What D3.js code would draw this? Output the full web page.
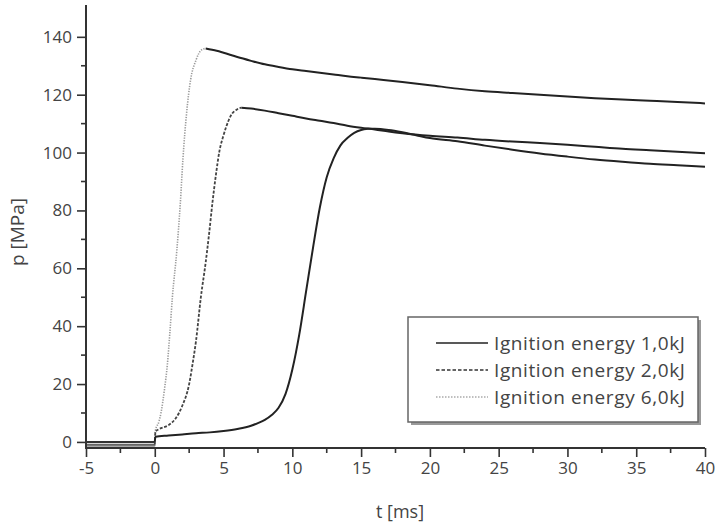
<!DOCTYPE html>
<html><head><meta charset="utf-8">
<script src="https://cdn.jsdelivr.net/npm/d3@7"></script>
<style>html,body{margin:0;padding:0;background:#fff;}svg{display:block;}</style>
</head><body>
<svg id="chart" width="718" height="526"></svg>
<script>
// ---- data ----
const seriesNames = ["Ignition energy 1,0kJ", "Ignition energy 2,0kJ", "Ignition energy 6,0kJ"];

const t1 = [-5,0,0.05,1,2,3,4,5,6,7,7.5,8,8.5,9,9.5,10,10.5,11,11.5,12,12.5,13,13.5,14,14.5,15,15.5,16,17,18,19,20,22,24,26,28,30,32,34,36,38,40];
const p1 = [0,0,1.8,2.2,2.6,3,3.3,3.8,4.5,5.6,6.5,7.6,9.3,11.8,16.5,25,37,52,67,81,91.5,98,102.5,105,106.8,107.8,108.2,108.2,107.8,107,106,105,103.9,102.4,101,99.7,98.6,97.6,96.8,96.1,95.6,95.1];

const t2 = [-5,0,0.05,0.3,1,1.5,2,2.5,2.75,3,3.35,3.7,3.95,4.2,4.45,4.7,5,5.2,5.5,6,6.3,7,8,9,10,11,12,13,14,15,16,17,18,20,22,24,26,28,30,32,34,36,38,40];
const p2 = [-1,-1,3.5,4.4,5.8,8,12.5,20,27,35,50,62,72,83,92.5,100.5,106,109,112.5,115,115.5,115.2,114.5,113.6,112.7,111.8,111,110.2,109.3,108.6,108,107.3,106.7,105.8,105.2,104.4,103.8,103.3,102.7,102,101.3,100.8,100.3,99.8];

const t3 = [-5,0,0.05,0.3,0.45,0.7,0.92,1.1,1.28,1.6,1.85,2.05,2.3,2.6,3,3.4,3.7,4.5,5,6,7,8,9,10,11,12,13,14,15,16,18,20,22,24,26,28,30,32,34,36,38,40];
const p3 = [-1.5,-1.5,4,7,10,18,27,38,50,66,82,98,113,125,132,135.5,136,135.2,134.5,133,131.7,130.5,129.6,128.8,128.2,127.6,127,126.4,125.9,125.4,124.4,123.3,122.1,121.2,120.6,120,119.4,118.8,118.3,117.9,117.5,117];

const xTicks = [-5,0,5,10,15,20,25,30,35,40];
const xMinor = [-2.5,2.5,7.5,12.5,17.5,22.5,27.5,32.5,37.5];
const yTicks = [0,20,40,60,80,100,120,140];
const yMinor = [10,30,50,70,90,110,130];
const xTitle = "t [ms]";
const yTitle = "p [MPa]";

// ---- styles ----
const styles = [
  {rise:"#222", dash:null, w:2, legDash:null, legColor:"#222"},
  {rise:"#444", dash:"3,1.6", w:1.8, legDash:"3.5,2", legColor:"#333"},
  {rise:"#9a9a9a", dash:"1.3,1.3", w:1.6, legDash:"1.5,1.5", legColor:"#aaa"}
];
const tailColor = "#222";

const svg = d3.select("#chart");
const x = d3.scaleLinear().domain([-5,40]).range([86,705]);
const y = d3.scaleLinear().domain([-2.1,151]).range([448,5]);
const font = "'Open Sans', 'Noto Sans', sans-serif";
const fmt = d => String(d);

const line = d3.line().x(d=>x(d[0])).y(d=>y(d[1])).curve(d3.curveMonotoneX);

const data = [[t1,p1],[t2,p2],[t3,p3]];
[2,1,0].forEach(si => {
  const [ts, ps] = data[si];
  const pts = ts.map((t,i)=>[t, ps[i]]);
  const st = styles[si];
  const i0 = ts.indexOf(0);
  const pk = d3.maxIndex(ps);
  const pre = pts.slice(0, i0+1);
  const rise = pts.slice(i0, pk+1);
  const tail = pts.slice(pk);
  svg.append("path").attr("d", line(pre)).attr("fill","none")
    .attr("stroke", si===0 ? "#333" : (si===1 ? "#666" : "#aaa")).attr("stroke-width", 2);
  svg.append("path").attr("d", line(rise)).attr("fill","none")
    .attr("stroke", st.rise).attr("stroke-width", st.w)
    .attr("stroke-dasharray", st.dash);
  svg.append("path").attr("d", line(tail)).attr("fill","none")
    .attr("stroke", tailColor).attr("stroke-width", 2);
});

// ---- axes ----
const axisColor = "#333";
const gx = svg.append("g").attr("transform","translate(0,448)");
gx.call(d3.axisBottom(x).tickValues(xTicks).tickSize(9).tickPadding(5).tickFormat(fmt));
gx.append("g").selectAll("line").data(xMinor).join("line")
  .attr("x1",d=>x(d)).attr("x2",d=>x(d)).attr("y1",0).attr("y2",5);
const gy = svg.append("g").attr("transform","translate(86,0)");
gy.call(d3.axisLeft(y).tickValues(yTicks).tickSize(9).tickPadding(5).tickFormat(fmt));
gy.append("g").selectAll("line").data(yMinor).join("line")
  .attr("y1",d=>y(d)).attr("y2",d=>y(d)).attr("x1",0).attr("x2",-5);

[gx, gy].forEach(g => {
  g.select(".domain").remove();
  g.selectAll("line").attr("stroke", axisColor).attr("stroke-width", 1.6);
  g.selectAll("text").attr("fill","#444").style("font-family", font).style("font-size","17px");
});
svg.append("line").attr("x1",86).attr("x2",705).attr("y1",448).attr("y2",448)
  .attr("stroke",axisColor).attr("stroke-width",2);
svg.append("line").attr("x1",86).attr("x2",86).attr("y1",5).attr("y2",449)
  .attr("stroke",axisColor).attr("stroke-width",2);

svg.append("text").attr("x", 400).attr("y", 518).attr("text-anchor","middle")
  .attr("fill","#444").style("font-family",font).style("font-size","18px").text(xTitle);
svg.append("text").attr("transform","translate(24,232) rotate(-90)").attr("text-anchor","middle")
  .attr("fill","#444").style("font-family",font).style("font-size","19px").text(yTitle);

// ---- legend ----
const lg = svg.append("g");
lg.append("rect").attr("x",411).attr("y",320).attr("width",290).attr("height",105).attr("fill","#999");
lg.append("rect").attr("x",408).attr("y",317).attr("width",290).attr("height",105)
  .attr("fill","#fff").attr("stroke","#666").attr("stroke-width",1.5);
const rowsY = [343, 370, 397];
seriesNames.forEach((name,i) => {
  const st = styles[i];
  lg.append("line").attr("x1",436).attr("x2",488).attr("y1",rowsY[i]).attr("y2",rowsY[i])
    .attr("stroke", st.legColor).attr("stroke-width", 1.6).attr("stroke-dasharray", st.legDash);
  lg.append("text").attr("x",494).attr("y",rowsY[i]).attr("dy","0.35em")
    .attr("fill","#444").style("font-family",font).style("font-size","19px")
    .style("letter-spacing","0.6px").text(name);
});
</script>
</body></html>
